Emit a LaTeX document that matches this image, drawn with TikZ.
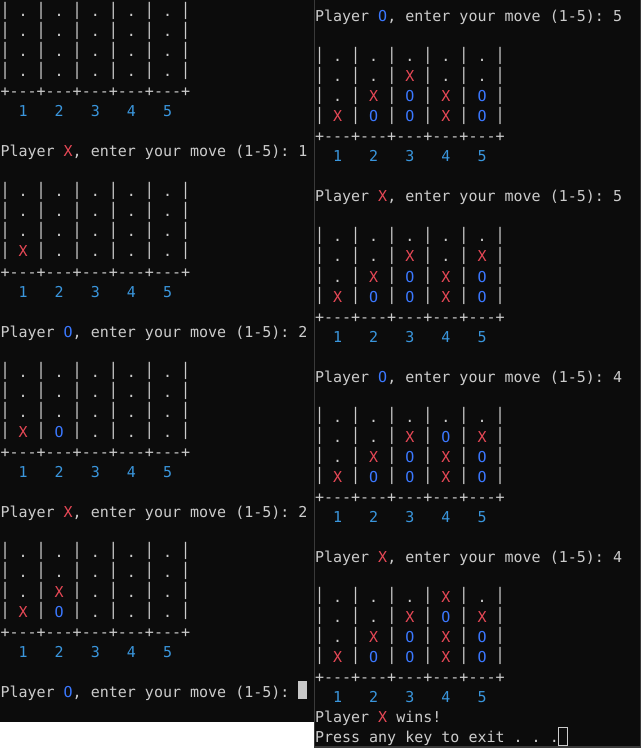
\documentclass[tikz,border=0pt]{standalone}
\usepackage{fontspec}
\usepackage{graphicx}
\setmonofont{DejaVu Sans Mono}
\definecolor{bg}{HTML}{0C0C0C}
\definecolor{cw}{HTML}{CCCCCC}
\definecolor{cx}{HTML}{E74856}
\definecolor{co}{HTML}{3B78FF}
\definecolor{cn}{HTML}{3A96DD}
\definecolor{cur}{HTML}{C8C8C8}
\definecolor{edge}{HTML}{3A3A3A}
\newcommand\rX{\textcolor{cx}{X}}
\newcommand\bO{\textcolor{co}{O}}
\newcommand\E{.}
\newcommand\V{\raisebox{1.1pt}{\scalebox{1}[1.15]{|}}}
\newcommand\B[5]{\V~#1~\V~#2~\V~#3~\V~#4~\V~#5~\V}
\newcommand\SEP{+-{}-{}-+-{}-{}-+-{}-{}-+-{}-{}-+-{}-{}-+}
\newcommand\NUM{\textcolor{cn}{~~1~~~2~~~3~~~4~~~5}}
\frenchspacing
\begin{document}
\begin{tikzpicture}[x=0.75pt,y=-0.75pt,
  ln/.style={anchor=base west,inner sep=0pt,outer sep=0pt,text=cw,
    font=\ttfamily\fontsize{11.25pt}{15pt}\selectfont},
  curs/.style={inner sep=0pt,outer sep=0pt,minimum width=6.75pt,minimum height=13.5pt}]
\useasboundingbox (0,0) rectangle (641,748);
\fill[white] (0,0) rectangle (641,748);
\fill[bg] (0,0) rectangle (313.5,722);
\fill[edge] (313.5,0) rectangle (641,748);
\fill[bg] (314.5,0) rectangle (640,746);
% ---------- left panel ----------
\node[ln] (L0) at (0.5,17) {\B\E\E\E\E\E};
\node[ln] (L1) at (0.5,37) {\B\E\E\E\E\E};
\node[ln] (L2) at (0.5,57) {\B\E\E\E\E\E};
\node[ln] (L3) at (0.5,77) {\B\E\E\E\E\E};
\node[ln] (L4) at (0.5,97) {\SEP};
\node[ln] (L5) at (0.5,117) {\NUM};
\node[ln] (L7) at (0.5,157) {Player~\rX,~enter~your~move~(1-5):~1};
\node[ln] (L9) at (0.5,197) {\B\E\E\E\E\E};
\node[ln] (L10) at (0.5,217) {\B\E\E\E\E\E};
\node[ln] (L11) at (0.5,237) {\B\E\E\E\E\E};
\node[ln] (L12) at (0.5,257) {\B\rX\E\E\E\E};
\node[ln] (L13) at (0.5,277) {\SEP};
\node[ln] (L14) at (0.5,297) {\NUM};
\node[ln] (L16) at (0.5,337) {Player~\bO,~enter~your~move~(1-5):~2};
\node[ln] (L18) at (0.5,377) {\B\E\E\E\E\E};
\node[ln] (L19) at (0.5,397) {\B\E\E\E\E\E};
\node[ln] (L20) at (0.5,417) {\B\E\E\E\E\E};
\node[ln] (L21) at (0.5,437) {\B\rX\bO\E\E\E};
\node[ln] (L22) at (0.5,457) {\SEP};
\node[ln] (L23) at (0.5,477) {\NUM};
\node[ln] (L25) at (0.5,517) {Player~\rX,~enter~your~move~(1-5):~2};
\node[ln] (L27) at (0.5,557) {\B\E\E\E\E\E};
\node[ln] (L28) at (0.5,577) {\B\E\E\E\E\E};
\node[ln] (L29) at (0.5,597) {\B\E\rX\E\E\E};
\node[ln] (L30) at (0.5,617) {\B\rX\bO\E\E\E};
\node[ln] (L31) at (0.5,637) {\SEP};
\node[ln] (L32) at (0.5,657) {\NUM};
\node[ln] (L34) at (0.5,697) {Player~\bO,~enter~your~move~(1-5):~};
\node[curs,fill=cur] (cL) at (302,690) {};
% ---------- right panel ----------
\node[ln] (R0) at (315,22) {Player~\bO,~enter~your~move~(1-5):~5};
\node[ln] (R2) at (315,62) {\B\E\E\E\E\E};
\node[ln] (R3) at (315,82) {\B\E\E\rX\E\E};
\node[ln] (R4) at (315,102) {\B\E\rX\bO\rX\bO};
\node[ln] (R5) at (315,122) {\B\rX\bO\bO\rX\bO};
\node[ln] (R6) at (315,142) {\SEP};
\node[ln] (R7) at (315,162) {\NUM};
\node[ln] (R9) at (315,202) {Player~\rX,~enter~your~move~(1-5):~5};
\node[ln] (R11) at (315,242) {\B\E\E\E\E\E};
\node[ln] (R12) at (315,262) {\B\E\E\rX\E\rX};
\node[ln] (R13) at (315,282) {\B\E\rX\bO\rX\bO};
\node[ln] (R14) at (315,302) {\B\rX\bO\bO\rX\bO};
\node[ln] (R15) at (315,322) {\SEP};
\node[ln] (R16) at (315,342) {\NUM};
\node[ln] (R18) at (315,382) {Player~\bO,~enter~your~move~(1-5):~4};
\node[ln] (R20) at (315,422) {\B\E\E\E\E\E};
\node[ln] (R21) at (315,442) {\B\E\E\rX\bO\rX};
\node[ln] (R22) at (315,462) {\B\E\rX\bO\rX\bO};
\node[ln] (R23) at (315,482) {\B\rX\bO\bO\rX\bO};
\node[ln] (R24) at (315,502) {\SEP};
\node[ln] (R25) at (315,522) {\NUM};
\node[ln] (R27) at (315,562) {Player~\rX,~enter~your~move~(1-5):~4};
\node[ln] (R29) at (315,602) {\B\E\E\E\rX\E};
\node[ln] (R30) at (315,622) {\B\E\E\rX\bO\rX};
\node[ln] (R31) at (315,642) {\B\E\rX\bO\rX\bO};
\node[ln] (R32) at (315,662) {\B\rX\bO\bO\rX\bO};
\node[ln] (R33) at (315,682) {\SEP};
\node[ln] (R34) at (315,702) {\NUM};
\node[ln] (R35) at (315,722) {Player~\rX~wins!};
\node[ln] (R36) at (315,742) {Press~any~key~to~exit~.~.~.};
\node[curs,draw=cw,line width=0.75pt] (cR) at (562.5,736.5) {};
\end{tikzpicture}
\end{document}
